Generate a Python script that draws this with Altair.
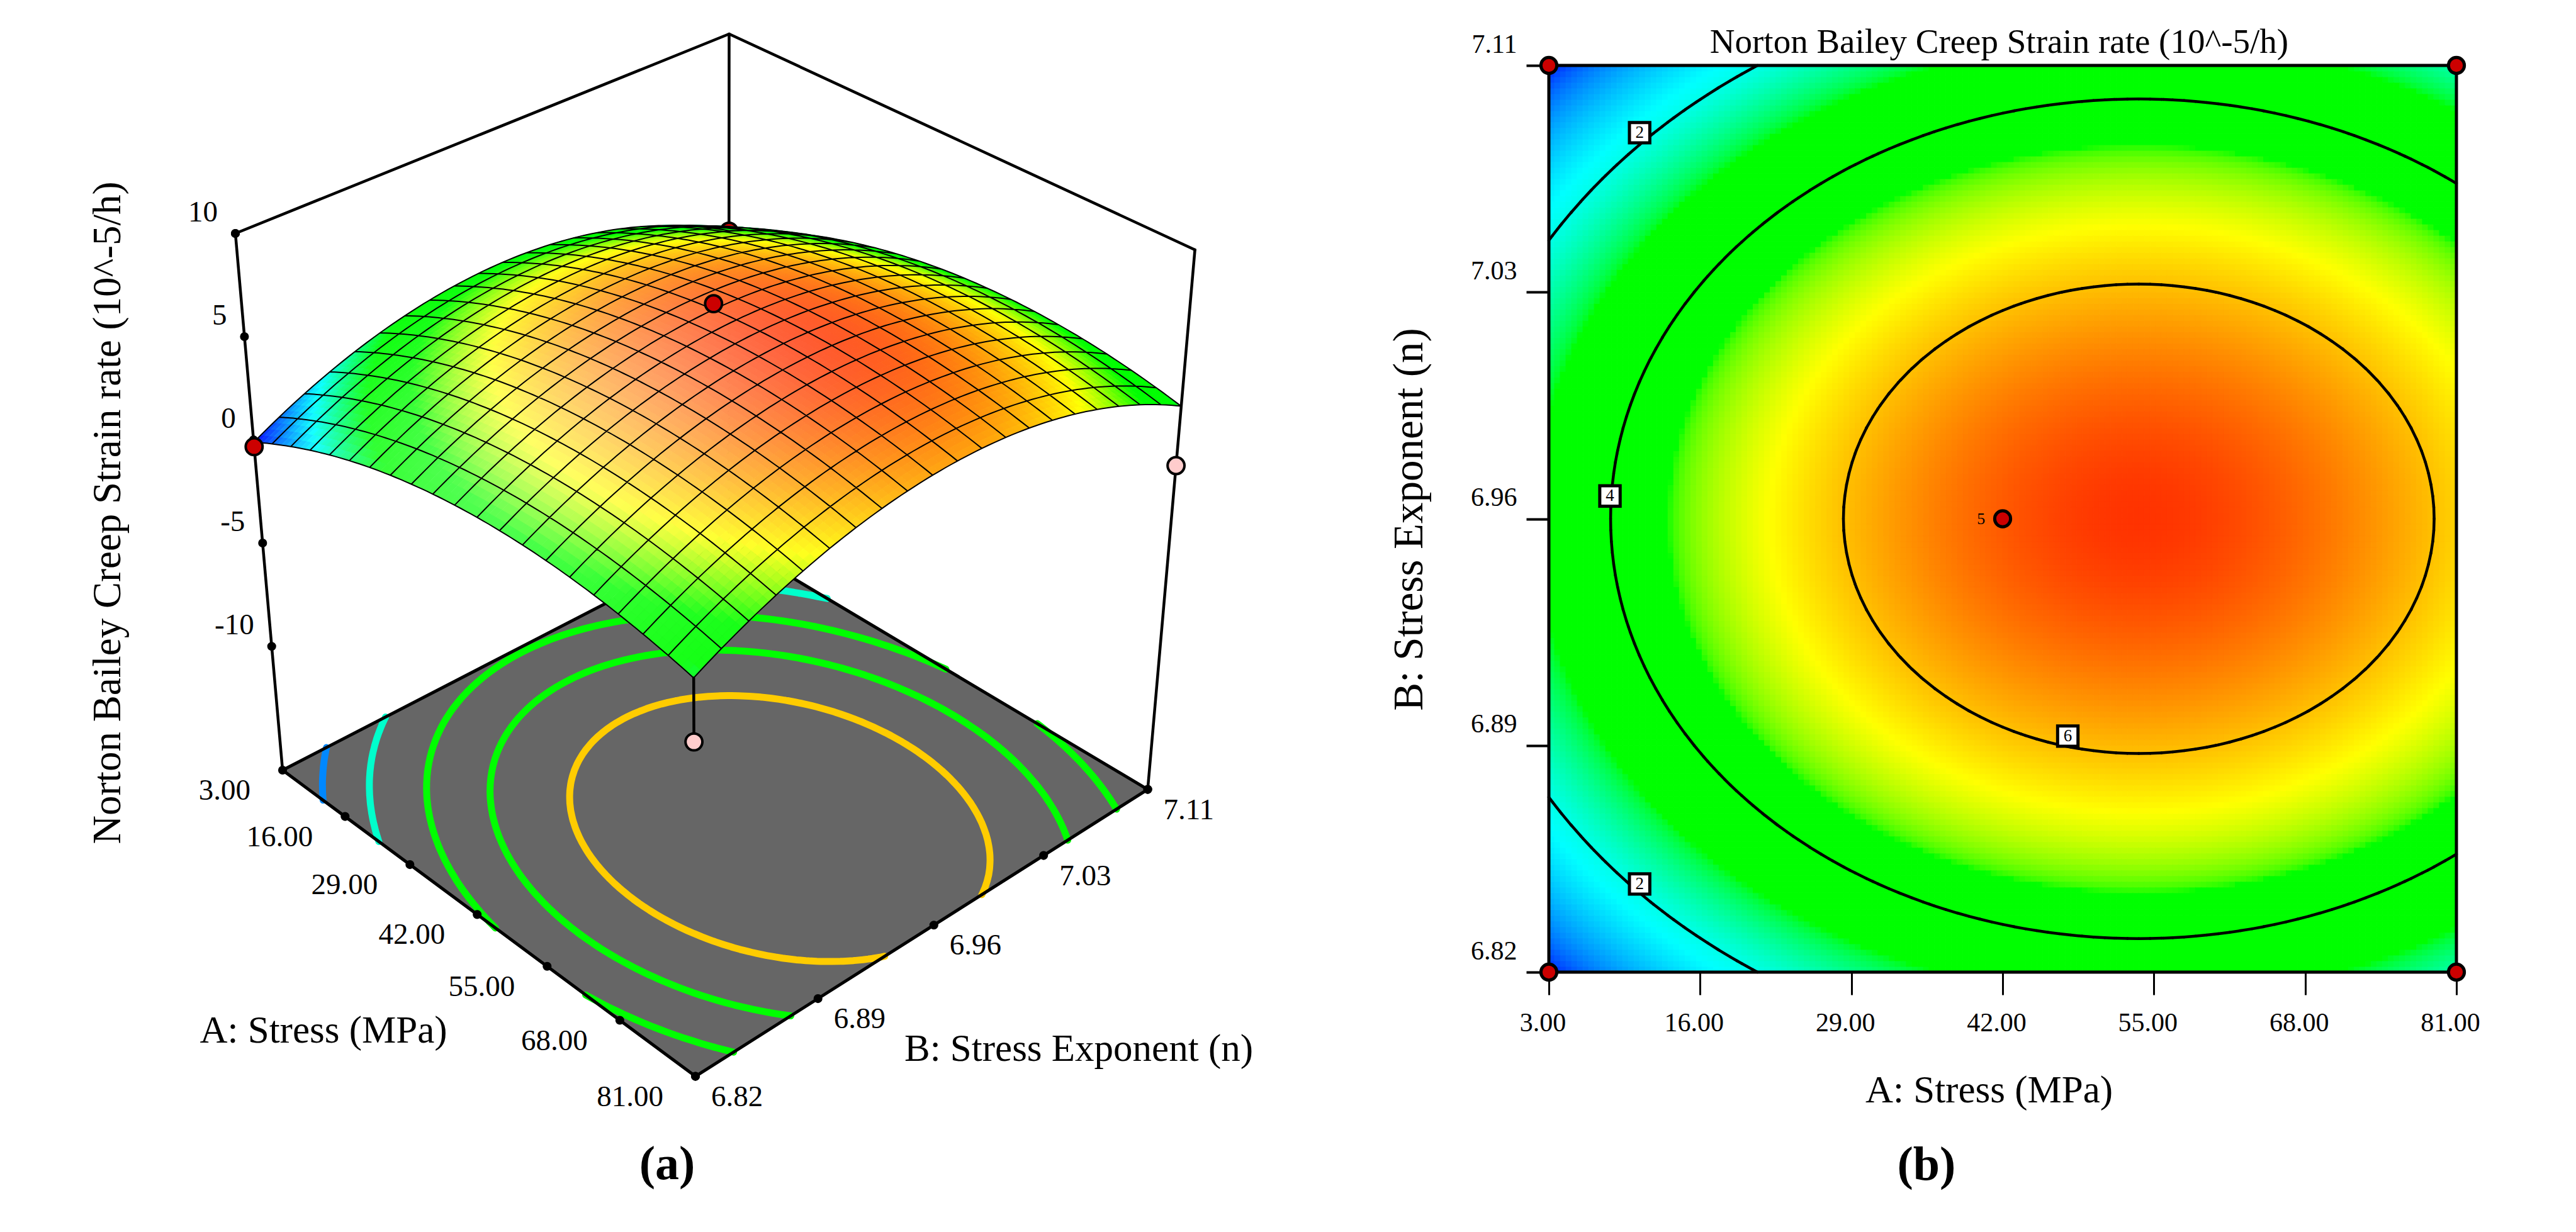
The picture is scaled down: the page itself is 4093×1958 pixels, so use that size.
import altair as alt
import numpy as np
import pandas as pd

alt.data_transformers.disable_max_rows()
FONT = "Liberation Serif"

# ---------- values ----------
stress_ticks = [3, 16, 29, 42, 55, 68, 81]
exponent_ticks = [6.82, 6.8925, 6.965, 7.0375, 7.11]
z_ticks = [10, 5, 0, -5, -10]
peak = 6.91
# fall of the response below its peak, stepping away from the ridge along each factor
stress_side = [3.6296,3.5602,3.4914,3.4233,3.3558,3.2890,3.2229,3.1575,3.0927,3.0286,2.9652,2.9024,2.8403,2.7789,2.7182,
 2.6581,2.5987,2.5400,2.4819,2.4246,2.3678,2.3118,2.2564,2.2017,2.1477,2.0944,2.0416,1.9896,1.9383,1.8876,1.8376,
 1.7883,1.7396,1.6917,1.6443,1.5977,1.5517,1.5064,1.4618,1.4178,1.3745,1.3319,1.2900,1.2487,1.2081,1.1682,1.1289,
 1.0903,1.0524,1.0151,0.9786,0.9426,0.9074,0.8729,0.8389,0.8057,0.7732,0.7413,0.7101,0.6796,0.6497,0.6205,0.5920,
 0.5641,0.5369,0.5104,0.4846,0.4594,0.4349,0.4111,0.3879,0.3655,0.3436,0.3225,0.3020,0.2822,0.2631,0.2446,0.2269,
 0.2097,0.1933,0.1775,0.1624,0.1480,0.1342,0.1211,0.1087,0.0970,0.0859,0.0755,0.0658,0.0567,0.0483,0.0406,0.0336,
 0.0272,0.0215,0.0164,0.0121,0.0084,0.0054,0.0030,0.0013,0.0003]
exponent_side = [3.3934,3.3092,3.2259,3.1437,3.0626,2.9825,2.9035,2.8256,2.7487,2.6729,2.5981,2.5245,2.4518,2.3802,
 2.3097,2.2402,2.1718,2.1045,2.0382,1.9730,1.9088,1.8457,1.7836,1.7227,1.6628,1.6040,1.5461,1.4894,1.4337,1.3792,
 1.3256,1.2731,1.2216,1.1713,1.1220,1.0737,1.0265,0.9804,0.9353,0.8913,0.8484,0.8065,0.7656,0.7259,0.6872,0.6495,
 0.6129,0.5774,0.5430,0.5096,0.4772,0.4459,0.4157,0.3865,0.3584,0.3314,0.3054,0.2805,0.2566,0.2338,0.2121,0.1914,
 0.1718,0.1532,0.1357,0.1193,0.1039,0.0896,0.0764,0.0642,0.0530,0.0429,0.0339,0.0260,0.0191,0.0133,0.0085,0.0048,
 0.0021,0.0005]
stress_drop = stress_side + [0.0] + stress_side[::-1][:56]
exponent_drop = exponent_side + [0.0] + exponent_side[::-1]
ramp_z = [-0.1, 1.7, 3.1, 4.6, 5.49, 6.91]
ramp_c = ["#0000ff", "#00ffff", "#00ff00", "#00ff00", "#ffff00", "#ff3300"]
surface_ramp_z = [-0.1, 1.5, 2.7, 3.6, 4.9, 6.91]
floor_levels = [1.0, 2.17, 3.42, 4.58, 5.7]
floor_colors = ["#0088ff", "#00ffcc", "#00ff00", "#00ff00", "#ffcc00"]
panel_b_levels = [2, 4, 6]
design_points = [
    (3, 6.82, -0.33, "#cc0000"), (81, 7.11, -0.4, "#ffcccc"),
    (81, 6.82, -0.5, "#ffcccc"), (42, 6.965, 7.0, "#cc0000")]
back_point = (3, 7.11, -0.13, "#cc0000")
b_corners = [(3, 7.11), (81, 7.11), (3, 6.82), (81, 6.82), (42, 6.965)]
b_labels = [(10.8, 7.0885, "2"), (8.25, 6.9723, "4"), (10.8, 6.8482, "2"), (47.6, 6.8955, "6")]

# ---------- derived tables ----------
A_fine = np.linspace(3, 81, len(stress_drop))
B_fine = np.linspace(6.82, 7.11, len(exponent_drop))
Z_fine = peak - np.array(stress_drop)[:, None] - np.array(exponent_drop)[None, :]
A, B, Z = A_fine[::2], B_fine[::2], Z_fine[::2, ::2]
ZMIN, ZMAX = -16.0, 10.0

# ---------- camera of panel (a): box corners in the picture ----------
UV = [(0, 0), (1, 0), (1, 1), (0, 1)]
floor_box = [(441, 1216), (1097, 1702.6), (1815.6, 1246.6), (1150, 850)]
top_box = [(366, 363), (1093, 811), (1890.6, 389), (1150.5, 46)]

def homography(dst):
    M, r = [], []
    for (u, v), (x, y) in zip(UV, dst):
        M.append([u, v, 1, 0, 0, 0, -u * x, -v * x]); r.append(x)
        M.append([0, 0, 0, u, v, 1, -u * y, -v * y]); r.append(y)
    return np.append(np.linalg.solve(np.array(M, float), np.array(r, float)), 1).reshape(3, 3)

HF, HT = homography(floor_box), homography(top_box)

def apply(H, u, v):
    p = H @ np.array([u, v, 1.0])
    return p[:2] / p[2]

def proj(a, b, z):
    u, v = (a - 3) / 78, (b - 6.82) / 0.29
    w = (z - ZMIN) / (ZMAX - ZMIN)
    f, t = apply(HF, u, v), apply(HT, u, v)
    return [round(float(f[0] + (t[0] - f[0]) * w), 1), round(float(f[1] + (t[1] - f[1]) * w), 1)]

def contour(level):
    segs = []
    for i in range(len(A) - 1):
        for j in range(len(B) - 1):
            c = [(A[i], B[j], Z[i, j]), (A[i + 1], B[j], Z[i + 1, j]),
                 (A[i + 1], B[j + 1], Z[i + 1, j + 1]), (A[i], B[j + 1], Z[i, j + 1])]
            pts = []
            for k in range(4):
                p, q = c[k], c[(k + 1) % 4]
                if (p[2] - level) * (q[2] - level) < 0:
                    t = (level - p[2]) / (q[2] - p[2])
                    pts.append((p[0] + t * (q[0] - p[0]), p[1] + t * (q[1] - p[1])))
            if len(pts) == 2:
                segs.append((pts[0][0], pts[0][1], pts[1][0], pts[1][1]))
    return segs

def ramp_hex(z, mix):
    rgb = [[int(c[k:k + 2], 16) for k in (1, 3, 5)] for c in ramp_c]
    ch = [np.interp(z, surface_ramp_z, [x[n] for x in rgb]) for n in range(3)]
    ch = [int(round(v + (255 - v) * mix)) for v in ch]
    return "#%02x%02x%02x" % tuple(ch)

# ---------- panel (a) ----------
W1, H1 = 2300, 1920
px = alt.Scale(domain=[0, W1], range=[0, W1], nice=False, zero=False)
py = alt.Scale(domain=[0, H1], range=[0, H1], nice=False, zero=False)
PX = lambda f: alt.X(f, type="quantitative", scale=px, axis=None)
PY = lambda f: alt.Y(f, type="quantitative", scale=py, axis=None)
FROM_C = {"expr": "datum.c"}

def edges(rows, width):
    d = pd.DataFrame(rows, columns=["x", "y", "x2", "y2"])
    return alt.Chart(d).mark_rule(color="black", strokeWidth=width, strokeCap="round").encode(
        x=PX("x"), y=PY("y"), x2=alt.X2("x2"), y2=alt.Y2("y2"))

def edge(p, q):
    return [p[0], p[1], q[0], q[1]]

def path_of(points, close=False):
    s = "M" + "L".join(f"{p[0]} {p[1]}" for p in points)
    return s + ("Z" if close else "")

def shapes(rows, filled=True, width=1.0):
    """rows: (svg path in panel pixels, colour); size 4 keeps a custom symbol at 1:1."""
    d = pd.DataFrame(rows, columns=["p", "c"])
    kw = dict(fill=FROM_C) if filled else dict(fill="transparent")
    return alt.Chart(d).mark_point(filled=True, shape={"expr": "datum.p"}, stroke=FROM_C, size=4, opacity=1,
                                   strokeWidth=width, strokeCap="round", strokeJoin="round", **kw).encode(
        x=alt.value(0), y=alt.value(0))

def text_left(rows, size, align="center", baseline="middle", angle=0, weight="normal"):
    d = pd.DataFrame(rows, columns=["x", "y", "t"])
    return alt.Chart(d).mark_text(font=FONT, fontSize=size, align=align, baseline=baseline,
                                  angle=angle, fontWeight=weight, color="black").encode(
        x=PX("x"), y=PY("y"), text="t:N")

def dots(rows, size=200):
    d = pd.DataFrame(rows, columns=["x", "y"])
    return alt.Chart(d).mark_circle(color="black", size=size, opacity=1).encode(x=PX("x"), y=PY("y"))

def marker(rows):
    d = pd.DataFrame(rows, columns=["x", "y", "c"])
    return alt.Chart(d).mark_point(filled=True, fill=FROM_C, stroke="black", strokeWidth=4, size=720, opacity=1).encode(
        x=PX("x"), y=PY("y"))

c00 = (3, 6.82); c10 = (81, 6.82); c11 = (81, 7.11); c01 = (3, 7.11)
box_back = edges([
    edge(proj(*c00, ZMAX), proj(*c01, ZMAX)), edge(proj(*c01, ZMAX), proj(*c11, ZMAX)),
    edge(proj(*c01, ZMAX), proj(*c01, ZMIN)), edge(proj(*c00, ZMAX), proj(*c00, ZMIN)),
    edge(proj(*c11, ZMAX), proj(*c11, ZMIN))], 4.5)

floor_ring = [proj(*c, ZMIN) for c in (c00, c10, c11, c01, c00)]
floor = shapes([(path_of(floor_ring[:-1], True), "#666666")])

floor_rows = []
for lev, col in zip(floor_levels, floor_colors):
    s = "".join(path_of([proj(g[0], g[1], ZMIN), proj(g[2], g[3], ZMIN)]) for g in contour(lev))
    floor_rows.append((s, col))
floor_lines = shapes(floor_rows, filled=False, width=11)
floor_edge = edges([edge(floor_ring[k], floor_ring[k + 1]) for k in range(4)], 5)

order = sorted(((i, j) for i in range(len(A) - 1) for j in range(len(B) - 1)), key=lambda t: t[0] - t[1])
quad_rows = []
for i, j in order:
    ring = [proj(A[a], B[b], Z[a, b]) for a, b in ((i, j), (i + 1, j), (i + 1, j + 1), (i, j + 1))]
    zc = Z[i:i + 2, j:j + 2].mean()
    u, v = (i + 0.5) / 80, (j + 0.5) / 80
    mix = 0.42 * np.exp(-((u - 0.55) ** 2 + (v - 0.22) ** 2) / (2 * 0.27 ** 2))
    quad_rows.append((path_of(ring, True), ramp_hex(zc, mix)))
surface = shapes(quad_rows, filled=True, width=1)

mesh_s = ""
for i in range(0, 81, 4):
    mesh_s += path_of([proj(A[i], B[j], Z[i, j]) for j in range(81)])
    mesh_s += path_of([proj(A[j], B[i], Z[j, i]) for j in range(81)])
mesh = shapes([(mesh_s, "#000000")], filled=False, width=2.0)

pz = [proj(3, 6.82, z) for z in z_ticks]
pa = [proj(a, 6.82, ZMIN) for a in stress_ticks]
pb = [proj(81, b, ZMIN) for b in exponent_ticks]
drop = edges([edge(proj(81, 6.82, Z[-1, 0]), proj(81, 6.82, design_points[2][2]))], 4.5)

panel_a = alt.layer(
    box_back,
    marker([proj(*back_point[:3]) + [back_point[3]]]),
    floor, floor_lines, floor_edge,
    dots(pz + pa + pb + [proj(81, 7.11, ZMIN), proj(3, 6.82, 10)]),
    surface, mesh, drop,
    marker([proj(*p[:3]) + [p[3]] for p in design_points]),
    text_left([[p[0] - 28, p[1] - 33, str(z)] for p, z in zip(pz, z_ticks)], 47, align="right"),
    text_left([[p[0] - 51, p[1] + 33, f"{a:.2f}"] for p, a in zip(pa, stress_ticks)], 47, align="right"),
    text_left([[p[0] + 25, p[1] + 33, f"{int(b * 100 + 0.001) / 100:.2f}"] for p, b in zip(pb, exponent_ticks)], 47, align="left"),
    text_left([[164, 807, "Norton Bailey Creep Strain rate (10^-5/h)"]], 63, angle=270),
    text_left([[506, 1631, "A: Stress (MPa)"]], 61),
    text_left([[1706, 1660, "B: Stress Exponent (n)"]], 61),
    text_left([[1052, 1843, "(a)"]], 76, weight="bold"),
).properties(width=W1, height=H1)

# ---------- panel (b) ----------
W2, H2 = 1442, 1537
sx = alt.Scale(domain=[3, 81], nice=False, zero=False)
sy = alt.Scale(domain=[6.82, 7.11], range=[H2, 96], nice=False, zero=False)
heat_scale = alt.Scale(domain=ramp_z, range=ramp_c)
axis_x = alt.Axis(
    values=stress_ticks, format=".2f", title="A: Stress (MPa)", grid=False, domain=False, labelFlush=False,
    tickSize=36, tickWidth=3, tickColor="black", labelFont=FONT, labelFontSize=42, labelColor="black",
    labelPadding=24, labelOffset=-10, labelBaseline="top", titleFont=FONT, titleFontSize=61,
    titleFontWeight="normal", titleColor="black", titleX=699, titleY=188, titleBaseline="middle")
axis_y = alt.Axis(
    values=exponent_ticks, labelExpr="format(floor(datum.value*100+0.001)/100,'.2f')", labelFlush=False,
    title="B: Stress Exponent (n)", grid=False, domain=False, tickSize=36, tickWidth=4, tickColor="black",
    labelFont=FONT, labelFontSize=42, labelColor="black", labelPadding=15, labelBaseline="bottom",
    labelOffset=-12, titleFont=FONT, titleFontSize=67, titleFontWeight="normal", titleColor="black",
    titleX=-222, titleY=817, titleAngle=270, titleBaseline="middle")
BX = lambda f: alt.X(f, type="quantitative", scale=sx, axis=axis_x)
BY = lambda f: alt.Y(f, type="quantitative", scale=sy, axis=axis_y)

cells = pd.DataFrame([
    {"a": round(float(A_fine[i]), 4), "a2": round(float(A_fine[i + 1]), 4),
     "b": round(float(B_fine[j]), 5), "b2": round(float(B_fine[j + 1]), 5),
     "z": round(float(Z_fine[i:i + 2, j:j + 2].mean()), 3)}
    for i in range(len(A_fine) - 1) for j in range(len(B_fine) - 1)])
heat = alt.Chart(cells).mark_rect(strokeWidth=1).encode(
    x=BX("a"), x2=alt.X2("a2"), y=BY("b"), y2=alt.Y2("b2"),
    color=alt.Color("z:Q", scale=heat_scale, legend=None),
    stroke=alt.Stroke("z:Q", scale=heat_scale, legend=None),
)

lines_b = pd.DataFrame([dict(zip(["a", "b", "a2", "b2"], s)) for lev in panel_b_levels for s in contour(lev)])
contours_b = alt.Chart(lines_b).mark_rule(color="black", strokeWidth=4.5, strokeCap="round").encode(
    x=BX("a"), y=BY("b"), x2=alt.X2("a2"), y2=alt.Y2("b2"))
frame = alt.Chart(pd.DataFrame([{"a": 3, "a2": 81, "b": 6.82, "b2": 7.11}])).mark_rect(
    filled=False, stroke="black", strokeWidth=5).encode(x=BX("a"), y=BY("b"), x2=alt.X2("a2"), y2=alt.Y2("b2"))
pts_b = alt.Chart(pd.DataFrame(b_corners, columns=["a", "b"])).mark_point(
    filled=True, fill="#cc0000", stroke="black", strokeWidth=5, size=640, opacity=1).encode(x=BX("a"), y=BY("b"))
lab_df = pd.DataFrame(b_labels, columns=["a", "b", "t"])
boxes = alt.Chart(lab_df).mark_point(shape="square", filled=True, fill="white", stroke="black", strokeWidth=5,
                                     size=1050, opacity=1).encode(x=BX("a"), y=BY("b"))
box_txt = alt.Chart(lab_df).mark_text(font=FONT, fontSize=27, color="black").encode(x=BX("a"), y=BY("b"), text="t:N")

def text_b(a, b, t, size, weight="normal", align="center"):
    d = pd.DataFrame([{"a": a, "b": b, "t": t}])
    return alt.Chart(d).mark_text(font=FONT, fontSize=size, fontWeight=weight, align=align, color="black").encode(
        x=BX("a"), y=BY("b"), text="t:N")

panel_b = alt.layer(
    heat, contours_b, frame, pts_b, boxes, box_txt,
    text_b(40.5, 6.965, "5", 26, align="right"),
    text_b(41.7, 7.1175, "Norton Bailey Creep Strain rate (10^-5/h)", 55),
    text_b(35.45, 6.7582, "(b)", 76, weight="bold"),
).properties(width=W2, height=H2)

chart = alt.hconcat(panel_a, panel_b, spacing=153, bounds="flush").properties(
    padding=0, background="white"
).configure_view(stroke=None)

chart.save("out.html", embed_options={"renderer": "svg", "actions": False})
